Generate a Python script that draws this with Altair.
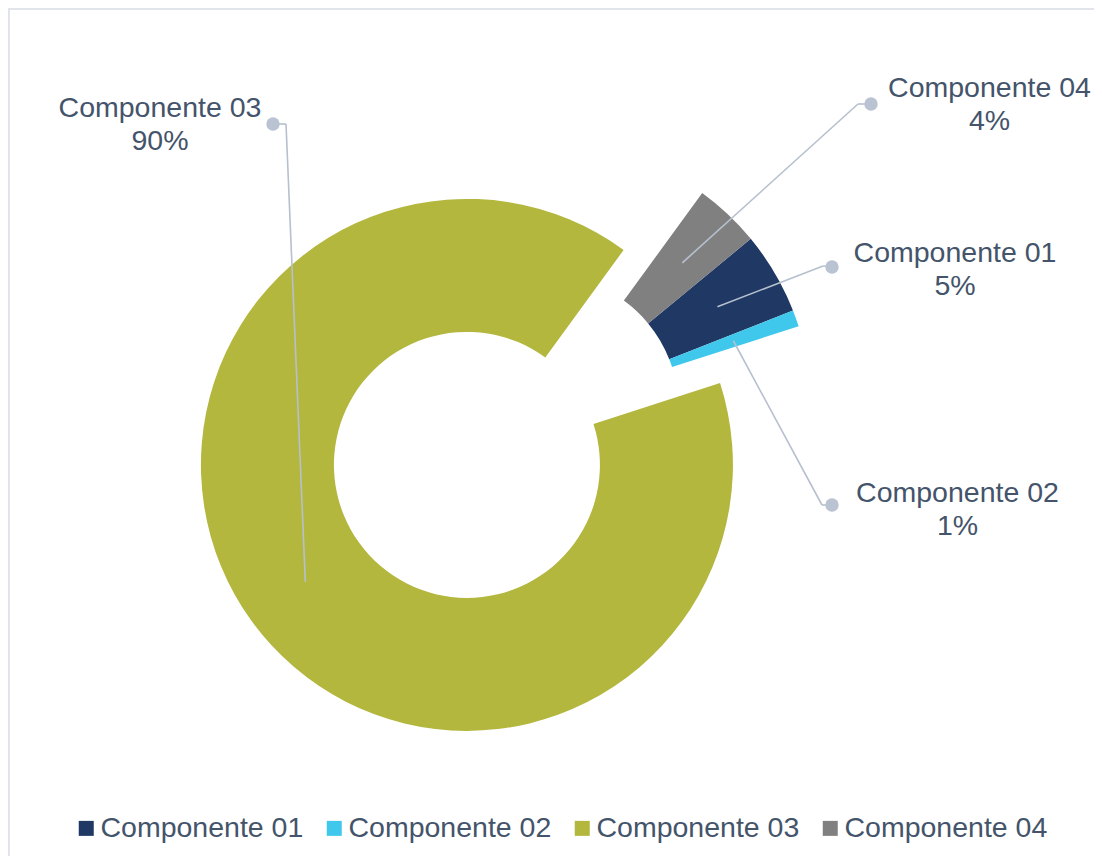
import math
import altair as alt
import pandas as pd

# ---- data ----
CATEGORIES = ["Componente 01", "Componente 02", "Componente 03", "Componente 04"]
VALUES = [5, 1, 90, 4]
COLORS = ["#1F3864", "#3FC8EC", "#B3B73E", "#808080"]

# ---- layout / style (view pixel coordinates) ----
START_ANGLE = math.radians(50.5)
CX, CY = 537.5, 400.0
OUTER, INNER = 266, 133
RMID = (OUTER + INNER) / 2
EXPLODE = {"Componente 03": 97}
# label anchor (lx, ly), leader elbow (bx, by), leader dot (dx, dy)
LABEL_LAYOUT = {
    "Componente 01": (947, 254, 815, 258, 824, 259),
    "Componente 02": (949.5, 494, 814, 497, 824, 497),
    "Componente 03": (152, 109, 278, 116, 265, 116),
    "Componente 04": (981.5, 89, 850, 96, 863, 96),
}
TEXT_COLOR = "#44546A"
LEADER_COLOR = "#B6C0CE"
FONT = "Liberation Sans"
W, H = 1086, 848

rows = []
for i, (c, v) in enumerate(zip(CATEGORIES, VALUES)):
    lx, ly, bx, by, dx, dy = LABEL_LAYOUT[c]
    rows.append(dict(category=c, value=v, order=i, explode=EXPLODE.get(c, 0),
                     lx=lx, ly=ly, bx=bx, by=by, dx=dx, dy=dy))
df = pd.DataFrame(rows)

base = (
    alt.Chart(df)
    .transform_stack(stack="value", groupby=[], as_=["s0", "s1"],
                     sort=[alt.SortField("order", order="ascending")])
    .transform_joinaggregate(total="sum(value)")
    .transform_calculate(
        f0="datum.s0 / datum.total",
        f1="datum.s1 / datum.total",
        mid=f"{START_ANGLE} + PI * (datum.s0 + datum.s1) / datum.total",
    )
    .transform_calculate(
        cx=f"{CX} + datum.explode * sin(datum.mid)",
        cy=f"{CY} - datum.explode * cos(datum.mid)",
    )
    .transform_calculate(
        ex=f"datum.cx + {RMID} * sin(datum.mid)",
        ey=f"datum.cy - {RMID} * cos(datum.mid)",
        lab="datum.category + '\\n' + format(datum.value / datum.total, '.0%')",
    )
)

arcs = base.mark_arc(radius=OUTER, radius2=INNER).encode(
    theta=alt.Theta("f0:Q", scale=alt.Scale(domain=[0, 1], range=[START_ANGLE, START_ANGLE + 2 * math.pi]), stack=None),
    theta2="f1:Q",
    x=alt.X("cx:Q", scale=None, axis=None),
    y=alt.Y("cy:Q", scale=None, axis=None),
    color=alt.Color(
        "category:N",
        scale=alt.Scale(domain=CATEGORIES, range=COLORS),
        legend=alt.Legend(
            title=None, orient="none", legendX=64, legendY=806, direction="horizontal",
            symbolType="square", symbolSize=225, symbolStrokeWidth=0,
            labelFont=FONT, labelFontSize=28.5, labelColor=TEXT_COLOR, labelLimit=600,
            labelOffset=0, columnPadding=16, padding=0,
        ),
    ),
)

leader1 = base.mark_rule(color=LEADER_COLOR, strokeWidth=1.6).encode(
    x=alt.X("ex:Q", scale=None, axis=None), y=alt.Y("ey:Q", scale=None, axis=None),
    x2="bx:Q", y2="by:Q",
)
leader2 = base.mark_rule(color=LEADER_COLOR, strokeWidth=1.6).encode(
    x=alt.X("bx:Q", scale=None, axis=None), y=alt.Y("by:Q", scale=None, axis=None),
    x2="dx:Q", y2="dy:Q",
)
dots = base.mark_circle(color="#B9C3D1", opacity=1, size=180).encode(
    x=alt.X("dx:Q", scale=None, axis=None), y=alt.Y("dy:Q", scale=None, axis=None),
)
labels = base.mark_text(font=FONT, fontSize=28.5, color=TEXT_COLOR, align="center",
                        baseline="alphabetic", lineBreak="\n", lineHeight=33).encode(
    x=alt.X("lx:Q", scale=None, axis=None), y=alt.Y("ly:Q", scale=None, axis=None),
    text="lab:N",
)

frame_df = pd.DataFrame({"k": [0]})
frame_top = alt.Chart(frame_df).mark_rule(color="#E1E5EB", strokeWidth=2).encode(
    x=alt.value(0), x2=alt.value(W), y=alt.value(1))
frame_left = alt.Chart(frame_df).mark_rule(color="#E1E5EB", strokeWidth=2).encode(
    x=alt.value(1), y=alt.value(0), y2=alt.value(H))

chart = (
    alt.layer(frame_top, frame_left, arcs, leader1, leader2, dots, labels)
    .properties(width=W, height=H, autosize=alt.AutoSizeParams(type="none"), padding=0,
                background="white")
    .configure_view(stroke=None)
)

chart.save("out.html", embed_options={"renderer": "svg", "actions": False})
